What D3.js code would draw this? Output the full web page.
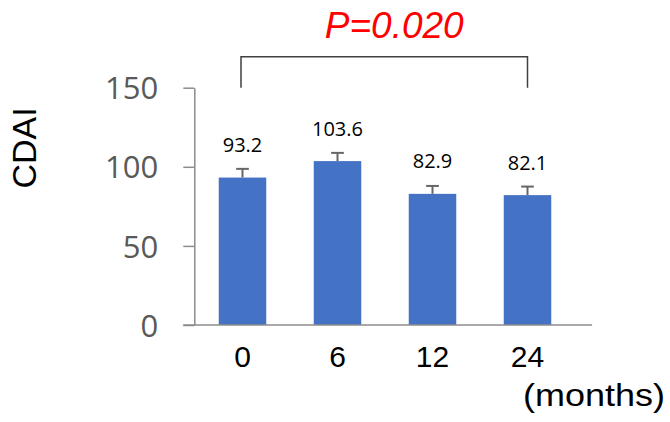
<!DOCTYPE html>
<html>
<head>
<meta charset="utf-8">
<script src="https://cdn.jsdelivr.net/npm/d3@7"></script>
<style>
  html, body { margin: 0; padding: 0; background: #fff; }
  svg { display: block; }
</style>
</head>
<body>
<svg id="chart" width="670" height="422"></svg>
<script>
// ---- data ----
const months = ["0", "6", "12", "24"];
const cdaiMean = [93.2, 103.6, 82.9, 82.1];
const cdaiErr = [5.5, 5.2, 5.0, 5.4];
const yTicks = [0, 50, 100, 150];
const pLabel = "P=0.020";
const yTitle = "CDAI";
const xUnit = "(months)";

// ---- layout ----
const svg = d3.select("#chart");
const y = d3.scaleLinear().domain([0, 150]).range([325, 87.7]);
const x = d3.scaleBand().domain(months).range([195, 575]).paddingInner(0.5).paddingOuter(0.25);
const axisColor = "#8c8c8c";

// Y axis
const yAxis = svg.append("g").attr("transform", "translate(194.3,0)")
  .call(d3.axisLeft(y).tickValues(yTicks).tickSize(11).tickSizeOuter(0).tickPadding(25));
yAxis.select(".domain").attr("stroke", axisColor).attr("stroke-width", 1.5);
yAxis.selectAll(".tick line").attr("stroke", axisColor).attr("stroke-width", 1.5);
yAxis.selectAll(".tick text")
  .attr("fill", "#595959")
  .style("font-family", "'Open Sans', sans-serif")
  .style("font-size", "31px")
  .attr("dy", "0.36em");

// Bars
svg.append("g").selectAll("rect").data(months).join("rect")
  .attr("x", d => x(d))
  .attr("width", x.bandwidth())
  .attr("y", (d, i) => y(cdaiMean[i]))
  .attr("height", (d, i) => y(0) - y(cdaiMean[i]))
  .attr("fill", "#4472C4");

// Error bars (upper only)
const capW = 12.7;
const eb = svg.append("g").attr("stroke", "#666666").attr("stroke-width", 2);
months.forEach((m, i) => {
  const cx = x(m) + x.bandwidth() / 2;
  eb.append("line").attr("x1", cx).attr("x2", cx)
    .attr("y1", y(cdaiMean[i])).attr("y2", y(cdaiMean[i] + cdaiErr[i]));
  eb.append("line").attr("x1", cx - capW / 2).attr("x2", cx + capW / 2)
    .attr("y1", y(cdaiMean[i] + cdaiErr[i])).attr("y2", y(cdaiMean[i] + cdaiErr[i]));
});

// X axis line
const xr = x.range();
svg.append("line")
  .attr("x1", 183.3).attr("x2", xr[1] + x.step() * 0.18)
  .attr("y1", y(0)).attr("y2", y(0))
  .attr("stroke", axisColor).attr("stroke-width", 1.5);

// X tick labels
const xAxis = svg.append("g").attr("transform", `translate(0,${y(0)})`)
  .call(d3.axisBottom(x).tickSize(0));
xAxis.select(".domain").remove();
xAxis.selectAll(".tick text")
  .attr("y", 42).attr("dy", 0)
  .attr("fill", "#000")
  .style("font-family", "'Liberation Sans', Arial, sans-serif")
  .style("font-size", "30px");

// Data labels
svg.append("g").selectAll("text").data(months).join("text")
  .attr("x", d => x(d) + x.bandwidth() / 2)
  .attr("y", (d, i) => y(cdaiMean[i]) - 25.5)
  .attr("text-anchor", "middle")
  .style("font-family", "'Open Sans', sans-serif")
  .style("font-size", "20px")
  .attr("fill", "#000")
  .text((d, i) => d3.format(".1f")(cdaiMean[i]));

// Units label
svg.append("text")
  .attr("x", 523).attr("y", 406)
  .attr("textLength", 142).attr("lengthAdjust", "spacingAndGlyphs")
  .style("font-family", "'Liberation Sans', Arial, sans-serif")
  .style("font-size", "31px")
  .attr("fill", "#000")
  .text(xUnit);

// Y title
svg.append("text")
  .attr("transform", "translate(35.5,148) rotate(-90)")
  .attr("text-anchor", "middle")
  .style("font-family", "'Liberation Sans', Arial, sans-serif")
  .style("font-size", "34px")
  .attr("fill", "#000")
  .text(yTitle);

// Significance bracket
const bx0 = x(months[0]) + x.bandwidth() / 2 - 1.5;
const bx1 = x(months[3]) + x.bandwidth() / 2;
const bTop = y(169.6), bBot = y(150);
svg.append("path")
  .attr("d", `M${bx0},${bBot}V${bTop}H${bx1}V${bBot}`)
  .attr("fill", "none").attr("stroke", "#404040").attr("stroke-width", 1.5);

svg.append("text")
  .attr("x", (bx0 + bx1) / 2 + 10).attr("y", 37.5)
  .attr("text-anchor", "middle")
  .style("font-family", "'Liberation Sans', Arial, sans-serif")
  .style("font-style", "italic")
  .style("font-size", "37px")
  .attr("fill", "#FF0000")
  .text(pLabel);
</script>
</body>
</html>
